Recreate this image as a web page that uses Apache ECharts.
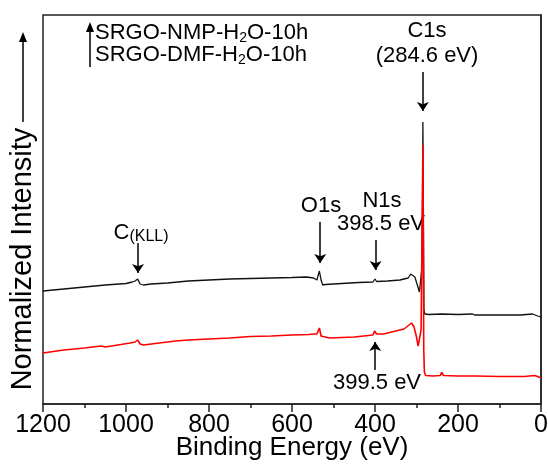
<!DOCTYPE html>
<html>
<head>
<meta charset="utf-8">
<script src="https://cdn.jsdelivr.net/npm/echarts@6/dist/echarts.min.js"></script>
<style>
  html, body { margin: 0; padding: 0; background: #fff; }
  #chart { width: 548px; height: 466px; }
</style>
</head>
<body>
<div id="chart"></div>
<script>
// binding energy (eV) and normalized intensity (arb. units)
const blackEnergy = [1200, 1150, 1100, 1050, 1000, 985, 978, 972, 966, 958, 940, 900, 850, 800, 750, 700, 650, 600, 565, 548, 540, 534, 530, 526, 520, 480, 440, 405, 400, 396, 370, 340, 320, 314, 310, 304, 298, 293, 290, 287.5, 285.5, 284.6, 283.5, 282, 280, 270, 240, 238, 236, 200, 165, 163, 160, 100, 50, 20, 8, 0];
const blackIntensity = [113, 115, 117, 119, 120.5, 122, 123, 125, 120, 119, 120, 121, 123, 124, 125, 125.5, 126, 126.5, 127, 126, 124, 133, 124, 119, 119.5, 120.5, 121.5, 122, 125, 122.5, 123, 124, 126, 130, 131, 127, 119, 112, 111, 134, 200, 282, 204, 94, 90, 89.5, 90, 91, 89.5, 89.5, 90, 91, 89, 89, 89, 90, 88, 87];

const redEnergy = [1200, 1150, 1100, 1060, 1050, 1020, 990, 978, 972, 966, 958, 920, 880, 850, 800, 750, 700, 650, 600, 560, 545, 540, 534, 530, 526, 510, 450, 405, 401, 399.5, 396, 380, 350, 330, 318, 312, 306, 300, 296, 292, 289, 286.5, 284.6, 283.5, 282.5, 281, 278, 260, 243, 239, 235, 200, 166, 162, 158, 100, 40, 15, 8, 0];
const redIntensity = [51, 54, 56, 58, 57, 59, 61, 62, 64, 60, 59, 61, 63, 64, 65, 66, 67.5, 68, 69, 69.5, 70, 70, 76, 68, 66, 66, 67, 69, 73, 75, 70, 70, 73, 75, 79, 81, 77, 67, 58, 56, 74, 174, 259, 154, 54, 32, 28.5, 28, 28.5, 31.5, 28.5, 28, 28, 29.5, 28, 27.5, 27.5, 28.5, 27.5, 26];

// annotation arrows: [energy, tail intensity, head intensity]
const peakArrows = [
  [284.6, 332, 293],   // C1s
  [532, 182, 141],     // O1s
  [398.5, 164, 134],   // N1s (black)
  [971, 161, 131],     // C(KLL)
  [399.5, 34, 62]      // N1s (red)
];

const seriesNames = ['SRGO-NMP-H2O-10h', 'SRGO-DMF-H2O-10h'];

const FONT = 'Liberation Sans, Arial, sans-serif';

function zip(xs, ys) {
  return xs.map((x, i) => [x, ys[i]]);
}

function arrowGraphic(x, yTail, yHead) {
  const dir = yHead < yTail ? 1 : -1;
  return {
    type: 'group',
    children: [
      { type: 'line', shape: { x1: x, y1: yTail, x2: x, y2: yHead + dir * 8 },
        style: { stroke: '#000', lineWidth: 1.5 } },
      { type: 'polygon', shape: { points: [[x, yHead], [x - 4, yHead + dir * 10], [x + 4, yHead + dir * 10]] },
        style: { fill: '#000' } }
    ]
  };
}

function txt(x, y, text, size, align, extra) {
  return Object.assign({
    type: 'text', x: x, y: y,
    style: { text: text, font: size + 'px ' + FONT, fill: '#000',
             textAlign: align || 'center', textVerticalAlign: 'middle' }
  }, extra || {});
}

const subRich = {
  a: { fontFamily: FONT, fontSize: 22, lineHeight: 24, color: '#000' },
  s: { fontFamily: FONT, fontSize: 14, lineHeight: 4, verticalAlign: 'bottom', color: '#000' }
};

const chart = echarts.init(document.getElementById('chart'));

chart.setOption({
  animation: false,
  backgroundColor: '#fff',
  grid: { left: 43, right: 7, top: 15, bottom: 62, outerBoundsMode: 'none',
          show: true, borderColor: '#222', borderWidth: 1.5 },
  xAxis: {
    type: 'value', min: 0, max: 1200, interval: 200, inverse: true,
    name: 'Binding Energy (eV)', nameLocation: 'middle', nameGap: 31, nameMoveOverlap: false,
    nameTextStyle: { fontFamily: FONT, fontSize: 26, color: '#000' },
    axisLine: { lineStyle: { color: '#222', width: 1.5 } },
    axisTick: { inside: false, length: 8, lineStyle: { color: '#222', width: 1.5 } },
    minorTick: { show: true, splitNumber: 2, length: 4, lineStyle: { color: '#222', width: 1.5 } },
    axisLabel: { fontFamily: FONT, fontSize: 25, color: '#000', margin: 9,
                 formatter: v => String(v) },
    splitLine: { show: false }
  },
  yAxis: {
    type: 'value', min: 0, max: 389,
    axisLine: { show: true, lineStyle: { color: '#222', width: 1.5 } },
    axisTick: { show: false }, axisLabel: { show: false }, splitLine: { show: false }
  },
  series: [
    {
      name: seriesNames[0], type: 'line', showSymbol: false, symbol: 'none',
      data: zip(blackEnergy, blackIntensity),
      lineStyle: { color: '#111', width: 1.3 },
      markLine: {
        silent: true, symbol: ['none', 'arrow'], symbolSize: 9,
        label: { show: false },
        lineStyle: { color: '#000', width: 1.5, type: 'solid' },
        data: peakArrows.map(a => [{ coord: [a[0], a[1]] }, { coord: [a[0], a[2]] }])
      }
    },
    {
      name: seriesNames[1], type: 'line', showSymbol: false, symbol: 'none',
      data: zip(redEnergy, redIntensity),
      lineStyle: { color: '#ff0000', width: 1.6 }
    }
  ],
  graphic: [
    // y axis title with its arrow
    txt(23, 259, 'Normalized Intensity', 29, 'center', { rotation: Math.PI / 2 }),
    arrowGraphic(23, 122, 32),
    // legend
    arrowGraphic(90, 67, 22),
    {
      type: 'text', x: 95, y: 33,
      style: { text: '{a|SRGO-NMP-H}{s|2}{a|O-10h}', textVerticalAlign: 'middle', rich: subRich }
    },
    {
      type: 'text', x: 95, y: 55,
      style: { text: '{a|SRGO-DMF-H}{s|2}{a|O-10h}', textVerticalAlign: 'middle', rich: subRich }
    },
    // peak labels
    txt(427, 31, 'C1s', 22),
    txt(427, 56, '(284.6 eV)', 22),
    txt(321, 206, 'O1s', 22),
    txt(382, 201, 'N1s', 22),
    txt(381, 224, '398.5 eV', 22),
    txt(377, 383, '399.5 eV', 22),
    {
      type: 'text', x: 141, y: 233,
      style: {
        text: '{c|C}{k|(KLL)}', textAlign: 'center', textVerticalAlign: 'middle',
        rich: { c: { fontFamily: FONT, fontSize: 22, lineHeight: 24, color: '#000' },
                k: { fontFamily: FONT, fontSize: 16, lineHeight: 22, verticalAlign: 'bottom', color: '#000' } }
      }
    }
  ]
});
</script>
</body>
</html>
